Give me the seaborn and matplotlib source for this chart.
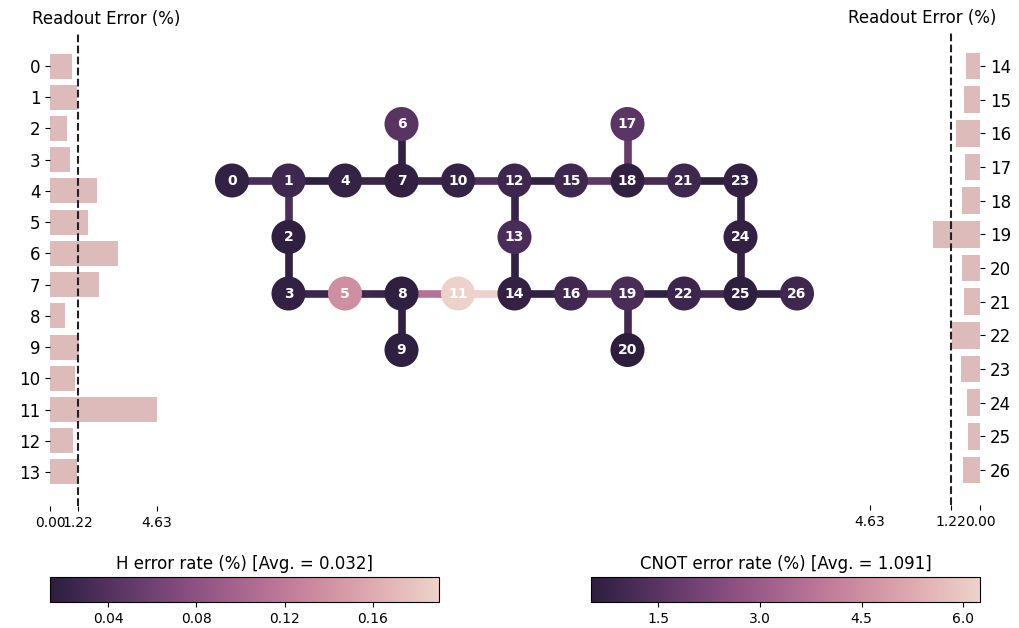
import matplotlib
matplotlib.use("Agg")
import numpy as np
import matplotlib as mpl
import matplotlib.pyplot as plt
import seaborn as sns

# qubit layout (row, col) of the 27 qubit device
qubit_rows = [1, 1, 2, 3, 1, 3, 0, 1, 3, 4, 1, 3, 1, 2, 3, 1, 3, 0, 1, 3, 4, 1, 3, 1, 2, 3, 3]
qubit_cols = [0, 1, 1, 1, 2, 2, 3, 3, 3, 3, 4, 4, 5, 5, 5, 6, 6, 7, 7, 7, 7, 8, 8, 9, 9, 9, 10]

# single qubit (H) error rate in %
h_err = [0.018, 0.027, 0.016, 0.018, 0.020, 0.137, 0.044, 0.017, 0.016, 0.016,
         0.020, 0.190, 0.026, 0.034, 0.018, 0.027, 0.028, 0.046, 0.017, 0.034,
         0.0137, 0.027, 0.025, 0.018, 0.018, 0.0145, 0.027]

# couplings, CNOT error (%) of the half next to the first / second qubit
edges = [(0, 1), (1, 2), (1, 4), (2, 3), (3, 5), (4, 7), (5, 8), (6, 7), (7, 10),
         (8, 9), (8, 11), (10, 12), (11, 14), (12, 13), (12, 15), (13, 14), (14, 16),
         (15, 18), (16, 19), (17, 18), (18, 21), (19, 20), (19, 22), (21, 23),
         (22, 25), (23, 24), (24, 25), (25, 26)]
cx_err_fwd = [1.15, 1.2, 0.507, 0.6, 0.9, 0.8, 0.9, 0.65, 0.85, 0.6, 3.7, 1.3, 6.246, 0.75,
              0.6, 0.6, 0.6, 1.6, 1.4, 1.8, 1.1, 1.0, 0.65, 0.55, 1.0, 0.65, 0.65, 0.6]
cx_err_bwd = [1.15, 1.2, 0.55, 0.6, 0.9, 0.8, 0.85, 0.65, 0.85, 0.6, 3.7, 1.3, 6.2, 0.75,
              0.6, 0.6, 0.6, 1.6, 1.4, 1.8, 1.1, 1.0, 0.65, 0.55, 1.0, 0.65, 0.65, 0.6]

# readout error in %
readout_err = [0.94, 1.19, 0.72, 0.87, 2.03, 1.64, 2.94, 2.11, 0.64, 1.27, 1.09, 4.63, 0.98, 1.19,
               0.58, 0.69, 0.99, 0.62, 0.75, 1.95, 0.75, 0.66, 1.17, 0.79, 0.54, 0.50, 0.70]

h_title = "H error rate (%) [Avg. = 0.032]"
cx_title = "CNOT error rate (%) [Avg. = 1.091]"
h_ticks = [0.04, 0.08, 0.12, 0.16]
cx_ticks = [1.5, 3.0, 4.5, 6.0]

cmap = sns.cubehelix_palette(reverse=True, as_cmap=True)
bar_color = "#DDBBBA"

W, H = 1019, 628
fig = plt.figure(figsize=(W / 100, H / 100), dpi=100)


def px_axes(x0, y0, x1, y1):
    """axes from pixel box (top-left origin)"""
    return fig.add_axes([x0 / W, 1 - y1 / H, (x1 - x0) / W, (y1 - y0) / H])


# ---- main gate map
main_ax = px_axes(170, 40, 850, 500)
unit = 56.5
x0_px, y0_px = 232, 124
main_ax.set_xlim((170 - x0_px) / unit, (850 - x0_px) / unit)
main_ax.set_ylim((500 - y0_px) / unit, (40 - y0_px) / unit)
main_ax.axis("off")

cx_all = cx_err_fwd + cx_err_bwd
cx_norm = mpl.colors.Normalize(vmin=min(cx_all), vmax=max(cx_all))
h_norm = mpl.colors.Normalize(vmin=min(h_err), vmax=max(h_err))

for (a, b), e_ab, e_ba in zip(edges, cx_err_fwd, cx_err_bwd):
    xa, ya = qubit_cols[a], qubit_rows[a]
    xb, yb = qubit_cols[b], qubit_rows[b]
    xm, ym = (xa + xb) / 2, (ya + yb) / 2
    main_ax.plot([xa, xm], [ya, ym], color=cmap(cx_norm(e_ab)), lw=5.5, zorder=0,
                 solid_capstyle="butt")
    main_ax.plot([xb, xm], [yb, ym], color=cmap(cx_norm(e_ba)), lw=5.5, zorder=0,
                 solid_capstyle="butt")

sns.scatterplot(x=qubit_cols, y=qubit_rows, hue=h_err, palette=cmap, hue_norm=h_norm,
                s=24.5 ** 2, linewidth=0, legend=False, ax=main_ax, zorder=2)
for q, (c, r) in enumerate(zip(qubit_cols, qubit_rows)):
    main_ax.text(c, r, str(q), ha="center", va="center", color="white",
                 fontsize=10, fontweight="bold", zorder=3)

# ---- readout bars
n_left = int(np.ceil(len(readout_err) / 2))
avg_read = np.mean(readout_err)
max_read = np.max(readout_err)
xticks = [0, round(avg_read, 2), round(max_read, 2)]


def readout_panel(ax, idx):
    vals = [readout_err[i] for i in idx]
    sns.barplot(x=vals, y=[str(i) for i in idx], orient="h", color=bar_color,
                saturation=1, width=0.8, ax=ax)
    ax.axvline(avg_read, linestyle="--", color="#212121")
    n = len(idx)
    pad = 0.05 * (n - 1 + 0.8)
    ax.set_ylim(n - 1 + 0.4 + pad, -0.4 - pad)
    ax.set_xlim(0, max_read * 1.05)
    ax.set_xticks(xticks)
    ax.set_xticklabels([f"{t:.2f}" for t in xticks], fontsize=10)
    ax.tick_params(axis="y", labelsize=12)
    ax.set_xlabel("")
    ax.set_ylabel("")
    ax.set_title("Readout Error (%)", fontsize=12)
    for spine in ax.spines.values():
        spine.set_visible(False)


left_ax = px_axes(50, 32, 162, 506)
readout_panel(left_ax, list(range(n_left)))

right_ax = px_axes(864, 31, 980, 505)
readout_panel(right_ax, list(range(n_left, len(readout_err))))
right_ax.invert_xaxis()
right_ax.yaxis.tick_right()

# ---- colorbars
h_cax = px_axes(50, 577, 439, 602)
h_cb = fig.colorbar(mpl.cm.ScalarMappable(norm=h_norm, cmap=cmap), cax=h_cax,
                    orientation="horizontal")
h_cb.set_ticks(h_ticks)
h_cax.set_title(h_title, fontsize=12)

cx_cax = px_axes(591, 577, 980, 602)
cx_cb = fig.colorbar(mpl.cm.ScalarMappable(norm=cx_norm, cmap=cmap), cax=cx_cax,
                     orientation="horizontal")
cx_cb.set_ticks(cx_ticks)
cx_cax.set_title(cx_title, fontsize=12)

fig.savefig("out.png", dpi=100)
